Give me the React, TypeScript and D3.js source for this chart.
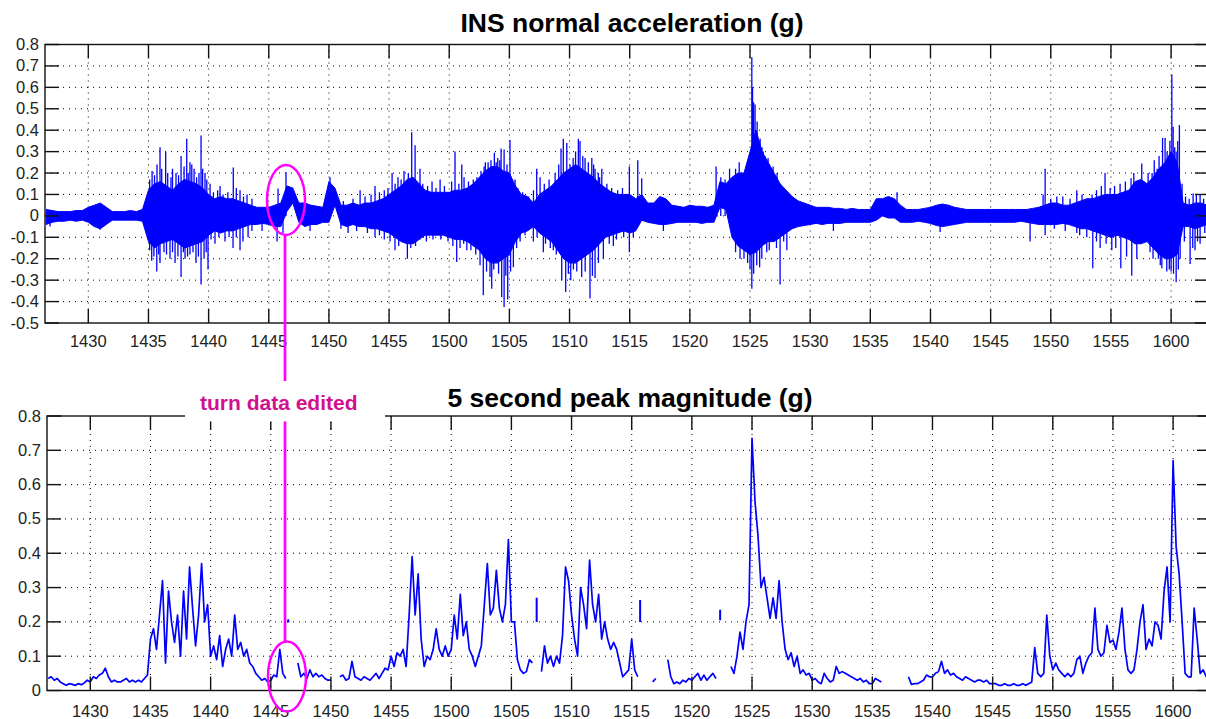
import React from "react";
import * as d3 from "d3";

// Time is in minutes after 14:00
const T0 = 26.5;
const BAND_STEP = 0.5;
const PEAK_STEP = 0.25;
const X_DOMAIN = [26.4, 123.15];

const xTickValues = [30, 35, 40, 45, 50, 55, 60, 65, 70, 75, 80, 85, 90, 95, 100, 105, 110, 115, 120];
const xTickLabels = ["1430", "1435", "1440", "1445", "1450", "1455", "1500", "1505", "1510", "1515", "1520", "1525", "1530", "1535", "1540", "1545", "1550", "1555", "1600"];
const accelTicks = [0.8, 0.7, 0.6, 0.5, 0.4, 0.3, 0.2, 0.1, 0, -0.1, -0.2, -0.3, -0.4, -0.5];
const accelTickLabels = ["0.8", "0.7", "0.6", "0.5", "0.4", "0.3", "0.2", "0.1", "0", "-0.1", "-0.2", "-0.3", "-0.4", "-0.5"];
const peakTicks = [0.8, 0.7, 0.6, 0.5, 0.4, 0.3, 0.2, 0.1, 0];
const peakTickLabels = ["0.8", "0.7", "0.6", "0.5", "0.4", "0.3", "0.2", "0.1", "0"];

// INS normal acceleration: dense band envelope every 0.5 min from 14:26.5
const accelHigh = [
  0.03, 0.025, 0.02, 0.02, 0.02, 0.025, 0.025,
  0.04, 0.05, 0.06, 0.04, 0.02, 0.02, 0.02, 0.025, 0.02, 0.03,
  0.12, 0.15, 0.16, 0.14, 0.12, 0.15, 0.17, 0.16, 0.15, 0.13,
  0.1, 0.08, 0.09, 0.08, 0.08, 0.07, 0.06, 0.05, 0.04, 0.04,
  0.04, 0.05, 0.06, 0.14, 0.13, 0.06, 0.06, 0.05, 0.045, 0.04,
  0.16, 0.13, 0.05, 0.05, 0.06, 0.05, 0.06, 0.06, 0.07, 0.08,
  0.1, 0.12, 0.14, 0.17, 0.18, 0.15, 0.12, 0.11, 0.11, 0.11,
  0.11, 0.12, 0.12, 0.13, 0.15, 0.18, 0.21, 0.23, 0.23, 0.21,
  0.2, 0.14, 0.1, 0.09, 0.06, 0.1, 0.12, 0.14, 0.17, 0.2,
  0.22, 0.24, 0.22, 0.2, 0.18, 0.15, 0.13, 0.11, 0.1, 0.1,
  0.1, 0.08, 0.1, 0.06, 0.06, 0.09, 0.08, 0.05, 0.045, 0.04,
  0.05, 0.045, 0.045, 0.04, 0.05, 0.16, 0.15, 0.18, 0.2, 0.2,
  0.3, 0.4, 0.3, 0.25, 0.2, 0.15, 0.12, 0.09, 0.07, 0.06,
  0.05, 0.04, 0.04, 0.04, 0.035, 0.035, 0.03, 0.035, 0.03, 0.03,
  0.03, 0.08, 0.08, 0.09, 0.08, 0.05, 0.03, 0.03, 0.03, 0.035,
  0.04, 0.05, 0.055, 0.05, 0.04, 0.035, 0.03, 0.03, 0.03, 0.03,
  0.03, 0.03, 0.03, 0.03, 0.03, 0.03, 0.03, 0.035, 0.04, 0.05,
  0.06, 0.06, 0.05, 0.05, 0.06, 0.07, 0.08, 0.08, 0.09, 0.1,
  0.1, 0.1, 0.11, 0.12, 0.16, 0.17, 0.15, 0.18, 0.22, 0.25,
  0.3, 0.25, 0.06, 0.05, 0.06, 0.06, 0.05,
];
const accelLow = [
  -0.04, -0.03, -0.025, -0.025, -0.02, -0.025, -0.02,
  -0.03, -0.05, -0.06, -0.04, -0.02, -0.02, -0.02, -0.02, -0.02, -0.025,
  -0.12, -0.15, -0.13, -0.12, -0.11, -0.13, -0.15, -0.14, -0.13, -0.12,
  -0.09, -0.07, -0.08, -0.07, -0.07, -0.06, -0.05, -0.04, -0.04, -0.035,
  -0.04, -0.05, -0.05, 0.02, 0.06, -0.03, -0.05, -0.04, -0.04, -0.03,
  -0.03, 0.05, -0.04, -0.05, -0.04, -0.05, -0.05, -0.06, -0.06, -0.07,
  -0.08, -0.1, -0.12, -0.13, -0.13, -0.11, -0.09, -0.09, -0.09, -0.09,
  -0.1, -0.11, -0.11, -0.12, -0.14, -0.16, -0.2, -0.22, -0.22, -0.2,
  -0.18, -0.12, -0.08, -0.07, -0.05, -0.08, -0.1, -0.12, -0.16, -0.2,
  -0.22, -0.22, -0.2, -0.18, -0.16, -0.13, -0.1, -0.09, -0.08, -0.07,
  -0.08, -0.07, -0.02, -0.03, -0.035, -0.04, -0.04, -0.035, -0.03, -0.03,
  -0.03, -0.03, -0.035, -0.03, -0.03, 0.04, 0.03, -0.1, -0.14, -0.16,
  -0.18, -0.17, -0.14, -0.12, -0.12, -0.1, -0.08, -0.06, -0.05, -0.045,
  -0.04, -0.035, -0.04, -0.035, -0.035, -0.035, -0.03, -0.03, -0.03, -0.03,
  -0.03, -0.02, 0.0, -0.01, -0.01, -0.03, -0.03, -0.03, -0.025, -0.03,
  -0.035, -0.045, -0.05, -0.045, -0.04, -0.035, -0.03, -0.03, -0.03, -0.03,
  -0.03, -0.03, -0.03, -0.03, -0.03, -0.025, -0.03, -0.035, -0.04, -0.04,
  -0.04, -0.04, -0.035, -0.04, -0.05, -0.06, -0.06, -0.07, -0.08, -0.09,
  -0.1, -0.09, -0.1, -0.11, -0.13, -0.13, -0.12, -0.15, -0.18, -0.2,
  -0.2, -0.18, -0.05, -0.05, -0.06, -0.05, -0.04,
];

// Individual excursions beyond the band: [minute, g]
const accelPeaks: [number, number][] = [
  [35.3, 0.21], [35.71, 0.24], [35.96, 0.32], [36.43, 0.3], [36.87, 0.18], [37.29, 0.2], [37.71, 0.28],
  [37.96, 0.23], [38.18, 0.36], [38.45, 0.25], [38.79, 0.22], [39.2, 0.2], [39.37, 0.375], [39.7, 0.2],
  [40.12, 0.15], [40.95, 0.14], [42.05, 0.226], [42.61, 0.12], [43.19, 0.1], [45.77, 0.128], [46.43, 0.205],
  [50.09, 0.18], [52.59, 0.12], [53.83, 0.14], [54.91, 0.13], [55.25, 0.2], [55.74, 0.18], [56.24, 0.21],
  [56.88, 0.39], [57.16, 0.33], [57.57, 0.22], [58.57, 0.16], [59.24, 0.17], [60.48, 0.3], [61.04, 0.24],
  [61.23, 0.18], [62.64, 0.21], [63.23, 0.25], [63.47, 0.26], [63.75, 0.295], [64.03, 0.27], [64.31, 0.315],
  [64.56, 0.31], [65.05, 0.354], [65.47, 0.17], [67.27, 0.22], [67.55, 0.18], [69.29, 0.315], [69.48, 0.36],
  [69.77, 0.34], [70.04, 0.24], [70.73, 0.36], [70.87, 0.35], [71.29, 0.27], [71.56, 0.25], [71.85, 0.27],
  [72.12, 0.22], [72.39, 0.2], [72.68, 0.22], [74.97, 0.23], [75.67, 0.26], [76.0, 0.176], [82.18, 0.23],
  [82.57, 0.18], [82.93, 0.17], [84.42, 0.2], [84.75, 0.22], [85.15, 0.74], [85.21, 0.6], [85.3, 0.53],
  [85.42, 0.52], [85.59, 0.44], [85.84, 0.36], [86.0, 0.32], [86.25, 0.28], [86.5, 0.27], [86.75, 0.2],
  [86.92, 0.23], [87.25, 0.2], [97.22, 0.11], [109.36, 0.1], [109.53, 0.22], [110.5, 0.09], [112.16, 0.12],
  [113.43, 0.1], [114.51, 0.2], [114.93, 0.13], [115.76, 0.15], [116.67, 0.176], [117.01, 0.15], [117.56, 0.245],
  [118.09, 0.2], [118.42, 0.2], [118.84, 0.22], [119.29, 0.363], [119.5, 0.363], [119.67, 0.3], [120.06, 0.66],
  [120.17, 0.416], [120.42, 0.3], [120.69, 0.424], [120.91, 0.15], [121.83, 0.105], [122.41, 0.1],
  [35.1, 0.17], [35.5, 0.19], [36.1, 0.22], [36.6, 0.2], [37.0, 0.22], [37.5, 0.19], [38.3, 0.2],
  [38.6, 0.24], [39.0, 0.18], [39.5, 0.22], [39.85, 0.17], [40.4, 0.11], [40.75, 0.12], [41.2, 0.1],
  [41.6, 0.11], [42.3, 0.13], [42.9, 0.09], [43.6, 0.08], [51.2, 0.07], [52.0, 0.08], [53.0, 0.09],
  [53.5, 0.1], [54.2, 0.11], [54.6, 0.12], [55.5, 0.15], [56.0, 0.17], [56.6, 0.2], [57.8, 0.15],
  [58.2, 0.14], [58.9, 0.13], [59.6, 0.14], [60.2, 0.16], [60.8, 0.15], [61.6, 0.16], [62.0, 0.17],
  [62.3, 0.18], [62.9, 0.23], [63.0, 0.25], [63.9, 0.25], [64.2, 0.26], [64.8, 0.24], [65.7, 0.13],
  [66.1, 0.11], [66.6, 0.09], [67.0, 0.12], [67.9, 0.15], [68.3, 0.17], [68.8, 0.2], [69.1, 0.24],
  [70.3, 0.27], [70.5, 0.3], [71.1, 0.28], [72.0, 0.24], [72.5, 0.18], [73.1, 0.15], [73.5, 0.13],
  [74.0, 0.12], [74.4, 0.13], [83.3, 0.22], [83.8, 0.22], [84.1, 0.25], [86.1, 0.3], [86.6, 0.24],
  [87.5, 0.15], [87.8, 0.13], [110.0, 0.08], [111.0, 0.09], [111.6, 0.08], [112.6, 0.1], [113.8, 0.12],
  [114.2, 0.14], [115.3, 0.14], [116.2, 0.16], [116.9, 0.2], [118.6, 0.26], [119.0, 0.28], [119.9, 0.35],
  [120.3, 0.32], [120.55, 0.35], [121.2, 0.09], [121.5, 0.08], [122.1, 0.1], [122.7, 0.08],
];
const accelDips: [number, number][] = [
  [26.82, -0.05], [30.97, -0.065], [35.27, -0.21], [35.69, -0.26], [35.96, -0.22], [36.29, -0.17], [36.79, -0.2],
  [37.21, -0.22], [37.71, -0.285], [38.04, -0.2], [38.45, -0.18], [38.95, -0.22], [39.37, -0.32], [39.62, -0.2],
  [39.95, -0.25], [40.53, -0.13], [41.36, -0.12], [42.03, -0.15], [42.61, -0.16], [43.28, -0.1], [44.44, -0.07],
  [45.69, -0.12], [46.18, -0.08], [48.43, -0.07], [51.59, -0.08], [53.83, -0.1], [55.08, -0.12], [55.49, -0.16],
  [56.16, -0.12], [56.52, -0.2], [57.57, -0.11], [58.65, -0.11], [59.9, -0.12], [60.62, -0.215], [61.46, -0.16],
  [62.56, -0.23], [62.83, -0.37], [63.39, -0.285], [63.53, -0.34], [63.95, -0.207], [64.36, -0.38], [64.56, -0.425],
  [64.86, -0.39], [65.33, -0.24], [65.89, -0.12], [66.99, -0.12], [67.82, -0.17], [68.65, -0.16], [69.35, -0.3],
  [69.68, -0.355], [70.32, -0.25], [71.01, -0.285], [71.7, -0.386], [72.12, -0.29], [72.81, -0.2], [73.64, -0.14],
  [74.97, -0.17], [75.3, -0.1], [77.8, -0.07], [83.59, -0.1], [84.17, -0.2], [85.0, -0.25], [85.15, -0.34],
  [85.56, -0.23], [85.98, -0.2], [86.39, -0.17], [87.5, -0.32], [88.06, -0.16], [91.93, -0.07], [100.8, -0.075],
  [108.28, -0.12], [109.53, -0.09], [112.16, -0.08], [112.99, -0.1], [113.49, -0.245], [114.1, -0.15], [115.07, -0.16],
  [115.82, -0.245], [116.73, -0.28], [117.15, -0.2], [118.25, -0.17], [118.94, -0.2], [119.23, -0.245], [119.64, -0.26],
  [120.0, -0.26], [120.42, -0.31], [120.75, -0.2], [121.58, -0.225], [121.99, -0.16], [122.41, -0.13],
  [35.1, -0.16], [35.45, -0.19], [35.85, -0.18], [36.5, -0.18], [37.0, -0.17], [37.45, -0.19], [37.9, -0.17],
  [38.25, -0.19], [38.7, -0.17], [39.15, -0.19], [39.8, -0.17], [40.2, -0.11], [40.85, -0.1], [41.7, -0.1],
  [42.3, -0.1], [42.85, -0.12], [43.6, -0.07], [51.0, -0.06], [52.3, -0.07], [53.2, -0.08], [54.2, -0.09],
  [54.6, -0.11], [55.8, -0.14], [56.8, -0.15], [57.2, -0.14], [58.1, -0.12], [59.3, -0.11], [60.3, -0.14],
  [60.9, -0.15], [61.2, -0.13], [61.8, -0.16], [62.2, -0.18], [63.1, -0.26], [63.7, -0.25], [64.1, -0.27],
  [64.7, -0.28], [65.1, -0.26], [65.6, -0.15], [66.3, -0.09], [67.3, -0.1], [68.0, -0.13], [68.4, -0.15],
  [68.9, -0.18], [69.9, -0.27], [70.1, -0.3], [70.6, -0.26], [71.3, -0.26], [71.9, -0.28], [72.4, -0.22],
  [73.3, -0.13], [73.9, -0.11], [74.5, -0.1], [83.8, -0.17], [84.5, -0.2], [84.8, -0.22], [85.3, -0.27],
  [85.8, -0.24], [86.6, -0.16], [87.2, -0.15], [87.8, -0.12], [110.3, -0.06], [111.2, -0.07], [112.4, -0.09],
  [113.8, -0.12], [114.6, -0.13], [115.4, -0.15], [116.3, -0.19], [118.5, -0.2], [119.1, -0.23], [119.85, -0.25],
  [120.2, -0.27], [120.6, -0.25], [121.1, -0.12], [121.8, -0.15], [122.2, -0.12], [122.8, -0.08],
];

// 5 second peak magnitude, every 0.25 min from 14:26.5 (null = no data)
const peakMag: (number | null)[] = [
  0.035, 0.04, 0.03, 0.035, 0.025, 0.02, 0.015, 0.02, 0.018, 0.015, 0.02, 0.017, 0.022, 0.03,
  0.025, 0.04, 0.035, 0.045, 0.05, 0.065, 0.04, 0.025, 0.03, 0.025, 0.025, 0.03, 0.035, 0.025, 0.03, 0.025, 0.03, 0.025, 0.035, 0.045,
  0.15, 0.18, 0.12, 0.22, 0.32, 0.08, 0.29, 0.2, 0.14, 0.22, 0.1, 0.29, 0.15, 0.36, 0.24, 0.13, 0.22, 0.37, 0.2, 0.25,
  0.1, 0.13, 0.09, 0.16, 0.07, 0.12, 0.15, 0.1, 0.22, 0.12, 0.14, 0.1, 0.12, 0.08, 0.07, 0.05, 0.04, 0.03, 0.035, 0.025,
  0.03, 0.045, 0.04, 0.12, 0.05, 0.035, null, null, null, 0.08, 0.04, 0.05, 0.035, 0.06, 0.04, 0.05, 0.04, 0.045, 0.035, 0.03,
  0.03, null, null, 0.04, 0.045, 0.03, 0.035, 0.085, 0.04, 0.035, 0.03, 0.04, 0.035, 0.03, 0.04, 0.05, 0.035, 0.05, 0.065, 0.06,
  0.1, 0.07, 0.11, 0.1, 0.12, 0.07, 0.22, 0.39, 0.22, 0.34, 0.15, 0.07, 0.1, 0.09, 0.12, 0.18, 0.12, 0.1, 0.13, 0.1,
  0.12, 0.22, 0.15, 0.28, 0.16, 0.2, 0.12, 0.1, 0.07, 0.1, 0.13, 0.25, 0.37, 0.22, 0.24, 0.35, 0.24, 0.2, 0.25, 0.44,
  0.2, 0.2, 0.09, 0.06, 0.05, 0.055, 0.09, 0.08, null, null, 0.055, 0.13, 0.08, 0.1, 0.07, 0.1, 0.08, 0.16, 0.36, 0.32,
  0.22, 0.15, 0.1, 0.3, 0.25, 0.18, 0.38, 0.25, 0.2, 0.28, 0.15, 0.2, 0.15, 0.12, 0.14, 0.12, 0.08, 0.04, 0.05, 0.06,
  0.15, 0.06, 0.04, null, null, null, null, 0.025, 0.035, null, null, null, 0.09, 0.04, 0.02, 0.025, 0.02, 0.03, 0.025, 0.035,
  0.03, 0.04, 0.05, 0.03, 0.045, 0.03, 0.04, 0.05, 0.035, null, null, null, null, 0.07, 0.05, 0.1, 0.17, 0.12, 0.2, 0.25,
  0.735, 0.55, 0.45, 0.3, 0.33, 0.27, 0.21, 0.27, 0.21, 0.32, 0.2, 0.12, 0.09, 0.11, 0.07, 0.1, 0.05, 0.06, 0.045, 0.05,
  0.03, 0.035, 0.025, 0.02, 0.05, 0.035, 0.025, 0.03, 0.07, 0.05, 0.055, 0.05, 0.045, 0.04, 0.035, 0.03, 0.035, 0.025, 0.03, 0.02,
  0.02, 0.035, 0.03, 0.025, null, null, null, null, null, null, null, null, 0.04, 0.018, 0.02, 0.02, 0.025, 0.03, 0.045, 0.04,
  0.04, 0.05, 0.055, 0.085, 0.05, 0.06, 0.045, 0.05, 0.04, 0.035, 0.03, 0.04, 0.035, 0.03, 0.025, 0.03, 0.03, 0.025, 0.03, 0.02,
  0.02, 0.02, 0.015, 0.015, 0.02, 0.015, 0.015, 0.02, 0.015, 0.015, 0.02, 0.015, 0.02, 0.025, 0.125, 0.05, 0.04, 0.05, 0.22, 0.1,
  0.06, 0.08, 0.06, 0.05, 0.04, 0.05, 0.04, 0.05, 0.09, 0.1, 0.05, 0.08, 0.1, 0.11, 0.24, 0.12, 0.1, 0.11, 0.19, 0.14,
  0.147, 0.12, 0.17, 0.24, 0.12, 0.06, 0.05, 0.06, 0.12, 0.2, 0.25, 0.12, 0.15, 0.13, 0.2, 0.19, 0.15, 0.29, 0.36, 0.2,
  0.67, 0.42, 0.34, 0.2, 0.05, 0.04, 0.04, 0.24, 0.15, 0.05, 0.06, 0.04, 0.03,
];
// isolated short samples in the peak magnitude trace
const peakFragTime = [46.45, 67.1, 75.7, 82.35];
const peakFragLow = [0.198, 0.2, 0.2, 0.205];
const peakFragHigh = [0.208, 0.27, 0.264, 0.235];

const FONT = "'Liberation Sans', Arial, Helvetica, sans-serif";
const BLUE = "#0000ff";
const MAGENTA = "#ff00ff";

const topBox = { left: 45, right: 1209, top: 44.5, bottom: 323 };
const botBox = { left: 47, right: 1211, top: 416, bottom: 690.5 };

function Grid({ box, x, y, yTicks }: any) {
  return (
    <g>
      {xTickValues.map((t, i) => (
        <line key={"gx" + i} x1={x(t)} x2={x(t)} y1={box.top} y2={box.bottom} stroke="#000" strokeWidth={1} strokeDasharray="1 5" />
      ))}
      {yTicks.map((v: number, i: number) => {
        const yy = y(v);
        if (Math.abs(yy - box.top) < 1 || Math.abs(yy - box.bottom) < 1) return null;
        return <line key={"gy" + i} x1={box.left} x2={box.right} y1={yy} y2={yy} stroke="#000" strokeWidth={1} strokeDasharray="1 5" />;
      })}
    </g>
  );
}

function Frame({ box, x, y, yTicks, yLabels, labelX, xLabelY }: any) {
  const TL = 14;
  return (
    <g>
      <rect x={box.left} y={box.top} width={box.right - box.left} height={box.bottom - box.top} fill="none" stroke="#111" strokeWidth={1.4} />
      {xTickValues.map((t, i) => (
        <g key={"tx" + i}>
          <line x1={x(t)} x2={x(t)} y1={box.bottom} y2={box.bottom - TL} stroke="#111" strokeWidth={1.4} />
          <line x1={x(t)} x2={x(t)} y1={box.top} y2={box.top + TL} stroke="#111" strokeWidth={1.4} />
          <text x={x(t)} y={xLabelY} textAnchor="middle" fontFamily={FONT} fontSize={16.5} fill="#222">{xTickLabels[i]}</text>
        </g>
      ))}
      {yTicks.map((v: number, i: number) => (
        <g key={"ty" + i}>
          <line x1={box.left} x2={box.left + TL} y1={y(v)} y2={y(v)} stroke="#111" strokeWidth={1.4} />
          <line x1={box.right} x2={box.right - TL} y1={y(v)} y2={y(v)} stroke="#111" strokeWidth={1.4} />
          <text x={labelX} y={y(v) + 5.5} textAnchor="end" fontFamily={FONT} fontSize={16.5} fill="#222">{yLabels[i]}</text>
        </g>
      ))}
    </g>
  );
}

export default function App() {
  const xTop = d3.scaleLinear().domain(X_DOMAIN).range([topBox.left, topBox.right]);
  const yTop = d3.scaleLinear().domain([-0.5, 0.8]).range([topBox.bottom, topBox.top]);
  const xBot = d3.scaleLinear().domain(X_DOMAIN).range([botBox.left, botBox.right]);
  const yBot = d3.scaleLinear().domain([0, 0.8]).range([botBox.bottom, botBox.top]);

  const band = d3
    .area<number>()
    .x((_, i) => xTop(T0 + i * BAND_STEP))
    .y0((_, i) => yTop(accelLow[i]))
    .y1((d) => yTop(d))(accelHigh) as string;

  const peakLine = d3
    .line<number | null>()
    .defined((d) => d != null)
    .x((_, i) => xBot(T0 + i * PEAK_STEP))
    .y((d) => yBot(d as number))(peakMag) as string;

  return (
    <div style={{ position: "absolute", left: 0, top: 0 }}>
      <svg width={1206} height={719} viewBox="0 0 1206 719" style={{ display: "block", background: "#fff" }}>
        <defs>
          <clipPath id="clipTop">
            <rect x={topBox.left} y={topBox.top} width={topBox.right - topBox.left} height={topBox.bottom - topBox.top} />
          </clipPath>
          <clipPath id="clipBot">
            <rect x={botBox.left} y={botBox.top} width={botBox.right - botBox.left} height={botBox.bottom - botBox.top} />
          </clipPath>
        </defs>
        <rect x={0} y={0} width={1206} height={719} fill="#fff" />

        <text x={632} y={31.5} textAnchor="middle" fontFamily={FONT} fontWeight="bold" fontSize={26.5} fill="#000">
          INS normal acceleration (g)
        </text>
        <text x={630} y={407} textAnchor="middle" fontFamily={FONT} fontWeight="bold" fontSize={26.5} fill="#000">
          5 second peak magnitude (g)
        </text>

        {/* top panel */}
        <Grid box={topBox} x={xTop} y={yTop} yTicks={accelTicks} />
        <g clipPath="url(#clipTop)">
          <path d={band} fill={BLUE} stroke={BLUE} strokeWidth={1} />
          {accelPeaks.map(([t, v], i) => (
            <line key={"p" + i} x1={xTop(t)} x2={xTop(t)} y1={yTop(0)} y2={yTop(v)} stroke={BLUE} strokeWidth={1.3} />
          ))}
          {accelDips.map(([t, v], i) => (
            <line key={"d" + i} x1={xTop(t)} x2={xTop(t)} y1={yTop(0)} y2={yTop(v)} stroke={BLUE} strokeWidth={1.3} />
          ))}
        </g>
        <Frame box={topBox} x={xTop} y={yTop} yTicks={accelTicks} yLabels={accelTickLabels} labelX={39} xLabelY={347} />

        {/* bottom panel */}
        <Grid box={botBox} x={xBot} y={yBot} yTicks={peakTicks} />
        <g clipPath="url(#clipBot)">
          <path d={peakLine} fill="none" stroke={BLUE} strokeWidth={1.7} strokeLinejoin="round" />
          {peakFragTime.map((t, i) => (
            <line key={"f" + i} x1={xBot(t)} x2={xBot(t)} y1={yBot(peakFragLow[i])} y2={yBot(peakFragHigh[i])} stroke={BLUE} strokeWidth={2} />
          ))}
        </g>
        <Frame box={botBox} x={xBot} y={yBot} yTicks={peakTicks} yLabels={peakTickLabels} labelX={41} xLabelY={717} />

        {/* annotation */}
        <rect x={185} y={383} width={200} height={38.5} fill="#fff" />
        <text x={200} y={410} fontFamily={FONT} fontWeight="bold" fontSize={21} fill="#d0108f">
          turn data edited
        </text>
        <line x1={285} x2={285} y1={235} y2={381} stroke={MAGENTA} strokeWidth={2.7} />
        <line x1={285} x2={285} y1={421.5} y2={641.5} stroke={MAGENTA} strokeWidth={2.7} />
        <ellipse cx={286} cy={200} rx={19} ry={35} fill="none" stroke={MAGENTA} strokeWidth={2.5} />
        <ellipse cx={287} cy={676.5} rx={19} ry={35} fill="none" stroke={MAGENTA} strokeWidth={2.5} />
      </svg>
    </div>
  );
}
